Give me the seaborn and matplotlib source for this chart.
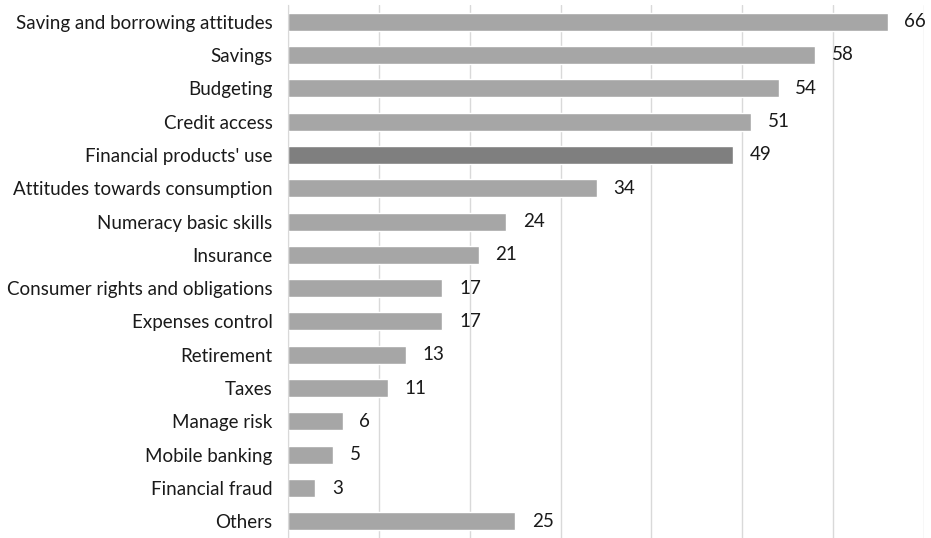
import pandas as pd
import matplotlib.pyplot as plt
import seaborn as sns

# Chart data
topics = ['Saving and borrowing attitudes', 'Savings', 'Budgeting', 'Credit access',
          "Financial products' use", 'Attitudes towards consumption', 'Numeracy basic skills',
          'Insurance', 'Consumer rights and obligations', 'Expenses control', 'Retirement',
          'Taxes', 'Manage risk', 'Mobile banking', 'Financial fraud', 'Others']
counts = [66, 58, 54, 51, 49, 34, 24, 21, 17, 17, 13, 11, 6, 5, 3, 25]
highlight = "Financial products' use"

df = pd.DataFrame({'topic': topics, 'count': counts})
palette = {t: ('#7f7f7f' if t == highlight else '#a6a6a6') for t in topics}

sns.set_style('white')
plt.rcParams['font.family'] = ['Lato', 'DejaVu Sans']

fig = plt.figure(figsize=(9.31, 5.38), dpi=100)
ax = fig.add_axes([288 / 931, 0.0, 636 / 931, 533 / 538])

sns.barplot(data=df, x='count', y='topic', hue='topic', palette=palette,
            width=0.54, legend=False, ax=ax)

for c in ax.containers:
    ax.bar_label(c, padding=12, fontsize=13.5, color='#1a1a1a')

ax.set_xlim(0, 70)
ax.set_ylim(15.5, -0.5)
ax.set_xticks(range(0, 71, 10))
ax.set_xticklabels([])
ax.grid(axis='x', color='#d9d9d9', linewidth=1)
ax.set_axisbelow(True)
ax.tick_params(axis='both', length=0)
ax.tick_params(axis='y', pad=11, labelsize=13.5, labelcolor='#1a1a1a')
ax.set_xlabel('')
ax.set_ylabel('')
for s in ['top', 'right', 'bottom']:
    ax.spines[s].set_visible(False)
ax.spines['left'].set_color('#d9d9d9')

plt.savefig('out.png')
